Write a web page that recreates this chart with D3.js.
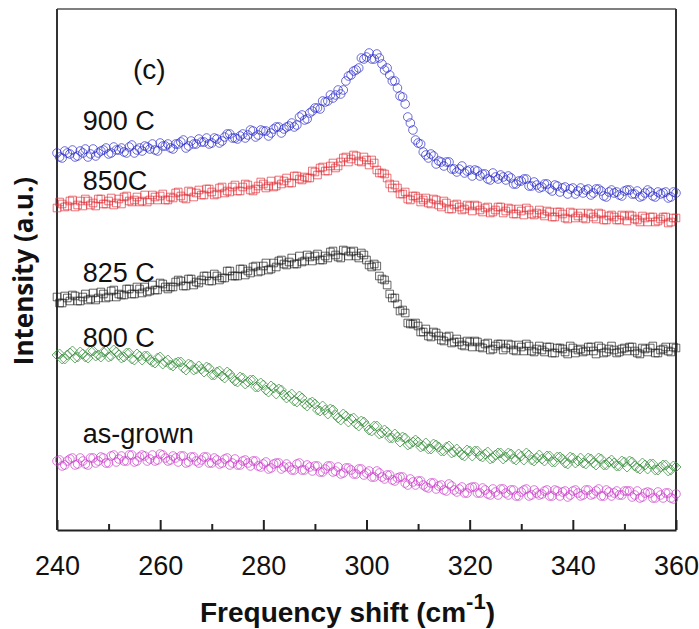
<!DOCTYPE html>
<html>
<head>
<meta charset="utf-8">
<script src="https://cdn.jsdelivr.net/npm/d3@7"></script>
<style>
  html, body { margin: 0; padding: 0; background: #fff; }
  svg { display: block; }
  .tick text { font-family: "Liberation Sans", Arial, sans-serif; font-size: 27px; fill: #111; }
</style>
</head>
<body>
<div id="content"></div>
<script>
"use strict";

// Raman shift grid (cm^-1): readings at whole and half wavenumbers, 240 to 360
var shiftStart = 240;
var shiftEnd = 360;

// intensity (a.u., offset stacked) at 240, 241, ... 360
var int900 = [377,372,377,380,374,377,373,381,377,380,376,383,380,378,383,377,382,384,381,380,
  387,384,382,386,388,382,389,386,388,392,387,391,389,396,392,391,396,395,399,395,
  399,394,401,403,401,404,403,413,410,417,422,421,428,435,435,436,449,455,460,472,
  473,471,476,466,462,449,442,433,413,400,387,378,372,374,369,364,368,361,361,357,
  360,360,354,356,350,353,355,350,352,346,349,351,344,345,343,346,339,344,342,336,
  342,339,337,341,337,341,334,338,337,335,339,340,336,333,337,338,333,336,338,333,337];
// ... and at 240.5, 241.5, ... 359.5
var int900Half = [373,379,376,373,379,381,376,374,379,382,
  377,380,382,377,385,380,379,383,386,379,
  384,386,381,386,390,384,386,391,388,386,
  392,387,393,396,392,394,392,400,393,400,
  399,397,403,397,403,407,405,415,411,419,
  422,429,429,432,440,440,454,459,462,471,
  477,471,472,460,455,449,434,426,407,390,
  386,375,376,366,368,368,361,358,364,359,
  354,359,356,351,357,351,353,354,346,349,
  351,344,348,342,346,341,345,338,343,341,
  336,342,340,335,341,339,333,340,338,334,
  340,336,339,334,340,334,338,337,332,338];

var int850 = [322,326,324,330,325,324,329,327,331,326,329,325,331,333,329,330,328,335,330,333,
  334,330,333,337,334,331,338,337,335,341,338,336,343,339,343,339,343,345,339,344,
  346,344,343,350,349,347,354,351,353,352,358,362,359,364,362,368,373,371,374,368,
  370,370,360,357,352,342,342,336,331,334,332,330,327,331,325,329,321,325,323,321,
  324,325,320,322,317,320,323,319,321,316,319,322,316,317,316,319,313,318,316,311,
  317,314,312,317,313,317,310,314,313,310,314,315,311,308,312,313,308,311,313,308,312];
var int850Half = [328,323,329,323,329,331,325,324,331,326,
  332,327,326,334,328,333,329,328,335,330,
  336,330,332,338,332,339,333,340,335,341,
  335,342,337,338,345,339,346,340,341,348,
  342,349,344,346,352,347,354,350,352,359,
  355,363,359,367,364,372,368,375,369,373,
  365,367,357,356,346,345,336,338,330,334,
  328,332,326,330,323,327,321,326,320,325,
  319,324,318,323,318,323,317,322,316,321,
  315,320,315,320,314,318,313,318,312,318,
  312,317,311,316,311,316,310,315,310,315,
  309,314,310,314,308,313,309,313,307,312];

var int825 = [233,227,232,235,229,233,230,237,232,236,233,240,236,235,241,236,241,243,239,240,
  247,243,243,248,249,244,251,248,250,254,249,254,252,259,254,254,261,259,263,258,
  264,260,267,269,266,268,266,274,269,273,274,270,274,278,275,272,279,278,274,277,
  270,263,264,251,245,232,226,220,207,206,204,198,194,198,194,189,194,188,188,184,
  188,189,183,186,180,184,186,182,185,179,183,186,179,181,180,183,177,182,181,176,
  182,180,178,183,179,184,177,181,180,178,182,183,179,176,181,182,177,180,183,178,182];
var int825Half = [227,234,229,234,229,236,231,230,238,232,
  239,233,235,241,236,243,237,238,245,240,
  246,241,243,250,244,251,245,247,254,249,
  256,250,252,259,254,261,255,257,264,259,
  267,261,263,270,265,272,266,268,275,269,
  276,270,272,279,273,280,274,279,272,275,
  265,266,254,250,236,232,219,217,206,207,
  198,201,193,197,190,193,187,191,185,189,
  183,188,182,187,181,186,180,186,180,185,
  179,184,178,184,178,183,177,182,178,184,
  177,181,179,183,176,182,178,184,177,181,
  179,183,177,182,178,184,177,181,179,183];

var int800 = [175,171,175,179,173,176,172,179,175,178,173,180,175,173,177,170,174,174,170,167,
  173,168,165,167,168,160,165,161,161,163,155,158,154,158,152,148,152,148,150,143,
  145,138,142,141,135,134,129,134,126,127,126,119,120,121,115,110,114,111,106,109,
  104,99,104,97,98,92,93,93,85,88,88,84,81,86,83,79,84,78,78,74,
  79,79,74,76,71,75,77,73,76,70,74,77,70,72,71,74,68,73,71,66,
  72,69,67,72,67,72,65,68,67,64,68,69,64,61,65,66,60,63,65,60,63];
var int800Half = [176,171,177,172,178,173,179,174,173,179,
  174,178,172,177,171,176,170,174,168,172,
  166,170,164,168,162,166,160,164,158,162,
  155,159,152,156,149,153,146,150,143,147,
  140,144,136,140,132,136,128,132,124,128,
  120,124,116,120,112,116,108,112,104,108,
  100,104,96,100,92,96,88,92,86,90,
  83,87,81,85,79,83,77,81,75,80,
  74,79,73,78,72,77,71,77,71,76,
  70,75,69,75,69,74,68,73,67,73,
  67,72,66,71,65,71,65,70,64,69,
  63,68,62,67,61,66,60,65,59,64];

var intGrown = [69,64,69,72,66,69,65,72,69,72,67,75,71,69,75,68,73,74,71,69,
  76,72,70,72,74,67,73,69,70,73,67,70,67,72,67,65,69,67,69,64,
  66,61,66,67,63,63,60,67,60,63,64,58,61,64,59,56,62,60,56,61,
  57,53,59,53,55,50,52,53,45,48,49,45,42,47,44,40,46,40,41,37,
  42,43,37,40,35,38,41,37,40,34,38,41,35,37,36,40,34,39,38,33,
  39,37,35,40,36,41,34,38,37,35,39,39,35,32,37,37,32,35,37,32,36];
var intGrownHalf = [70,65,71,65,72,66,72,67,73,67,
  74,68,74,69,75,69,75,69,75,70,
  75,69,74,68,74,68,73,67,73,67,
  72,66,71,65,71,65,70,64,69,63,
  68,62,67,61,66,60,66,60,65,59,
  64,58,64,58,63,57,62,56,61,55,
  59,53,57,51,55,49,53,47,51,45,
  49,43,47,41,45,39,44,38,43,37,
  43,37,42,36,41,35,41,35,40,34,
  40,34,40,35,39,34,40,34,39,35,
  40,34,40,35,39,34,40,34,39,35,
  39,33,39,33,38,32,38,32,37,31];

var seriesNames = ["900 C", "850C", "825 C", "800 C", "as-grown"];
var seriesValues = [int900, int850, int825, int800, intGrown];
var seriesHalf = [int900Half, int850Half, int825Half, int800Half, intGrownHalf];
var seriesColors = ["#2626c8", "#e03038", "#1e1e1e", "#2f8a35", "#c93ac9"];
var seriesMarks = ["circle", "square", "square", "diamond", "circle"];
// where each curve's name sits (shift, intensity)
var labelShift = [245, 245, 245, 245, 245];
var labelIntensity = [400, 340, 248, 183, 87];

var xTicks = [240, 260, 280, 300, 320, 340, 360];
var xMinorTicks = [250, 270, 290, 310, 330, 350];

var width = 699;
var height = 629;
var margin = {top: 9, right: 23, bottom: 99, left: 57};

var svg = d3.select('#content').append('svg')
  .attr('width', width)
  .attr('height', height);

var x = d3.scaleLinear()
  .domain([shiftStart, shiftEnd])
  .range([margin.left, width - margin.right]);
var y = d3.scaleLinear()
  .domain([0, 521])
  .range([height - margin.bottom, margin.top]);

// frame: top thin, left/right heavier
svg.append('line')
  .attr('x1', x.range()[0]).attr('x2', x.range()[1])
  .attr('y1', margin.top).attr('y2', margin.top)
  .attr('stroke', '#555').attr('stroke-width', 1.5);
svg.append('line')
  .attr('x1', x.range()[1]).attr('x2', x.range()[1])
  .attr('y1', margin.top).attr('y2', height - margin.bottom)
  .attr('stroke', '#333').attr('stroke-width', 2);
svg.append('line')
  .attr('x1', x.range()[0]).attr('x2', x.range()[0])
  .attr('y1', margin.top).attr('y2', height - margin.bottom)
  .attr('stroke', '#333').attr('stroke-width', 2);

// markers
var symbolFor = {
  circle: d3.symbol().type(d3.symbolCircle).size(58),
  square: d3.symbol().type(d3.symbolSquare).size(58),
  diamond: d3.symbol().type(d3.symbolSquare).size(50)
};

var plot = svg.append('g').attr('class', 'plot');
seriesValues.forEach(function(vals, s) {
  var pts = vals.map(function(v, i) { return [shiftStart + i, v]; })
    .concat(seriesHalf[s].map(function(v, i) { return [shiftStart + i + 0.5, v]; }))
    .sort(function(a, b) { return a[0] - b[0]; });
  plot.append('g')
    .attr('class', 'series')
    .selectAll('path')
    .data(pts)
    .enter()
    .append('path')
    .attr('d', symbolFor[seriesMarks[s]])
    .attr('transform', function(d) {
      var t = 'translate(' + x(d[0]) + ',' + y(d[1]) + ')';
      if (seriesMarks[s] === 'diamond') t += ' rotate(45)';
      return t;
    })
    .attr('fill', 'none')
    .attr('stroke', seriesColors[s])
    .attr('stroke-width', 0.8)
    .attr('stroke-opacity', 0.85);
});

// curve names
svg.selectAll('.curve-label')
  .data(seriesNames)
  .enter()
  .append('text')
  .attr('class', 'curve-label')
  .attr('x', function(d, i) { return x(labelShift[i]); })
  .attr('y', function(d, i) { return y(labelIntensity[i]); })
  .attr('font-family', '"Liberation Sans", Arial, sans-serif')
  .attr('font-size', 27)
  .attr('fill', '#111')
  .text(function(d) { return d; });

svg.append('text')
  .attr('x', 133)
  .attr('y', 79)
  .attr('font-family', '"Liberation Sans", Arial, sans-serif')
  .attr('font-size', 28)
  .attr('fill', '#111')
  .text('(c)');

// bottom axis with inward ticks
var xAxis = d3.axisBottom(x)
  .tickValues(xTicks)
  .tickSizeInner(-10)
  .tickSizeOuter(0)
  .tickPadding(26)
  .tickFormat(d3.format('d'));
var gx = svg.append('g')
  .attr('transform', 'translate(0,' + (height - margin.bottom) + ')')
  .call(xAxis);
gx.select('.domain').attr('stroke', '#222').attr('stroke-width', 2.2);
gx.selectAll('.tick line').attr('stroke', '#222').attr('stroke-width', 2);
gx.selectAll('.tick text').attr('dy', '0.71em');

var gxm = svg.append('g')
  .attr('transform', 'translate(0,' + (height - margin.bottom) + ')')
  .call(d3.axisBottom(x).tickValues(xMinorTicks).tickSizeInner(-6).tickSizeOuter(0).tickFormat(''));
gxm.select('.domain').remove();
gxm.selectAll('.tick line').attr('stroke', '#222').attr('stroke-width', 2);

// axis titles
var xTitle = svg.append('text')
  .attr('x', 200)
  .attr('y', 622)
  .attr('font-family', '"Liberation Sans", Arial, sans-serif')
  .attr('font-weight', 'bold')
  .attr('font-size', 28)
  .attr('fill', '#111');
xTitle.append('tspan').text('Frequency shift (cm');
xTitle.append('tspan').attr('font-size', 22).attr('dy', -13).text('-1');
xTitle.append('tspan').attr('dy', 13).text(')');

svg.append('text')
  .attr('transform', 'translate(33,271) rotate(-90)')
  .attr('text-anchor', 'middle')
  .attr('font-family', '"Open Sans", sans-serif')
  .attr('font-weight', 'bold')
  .attr('font-size', 26)
  .attr('fill', '#111')
  .text('Intensity (a.u.)');
</script>
</body>
</html>
